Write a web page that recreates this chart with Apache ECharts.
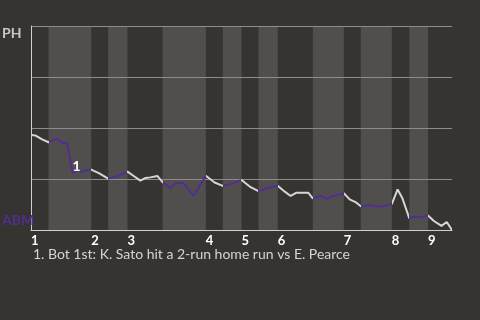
<!DOCTYPE html>
<html><head><meta charset="utf-8">
<script src="https://cdn.jsdelivr.net/npm/echarts@6/dist/echarts.min.js"></script>
<style>html,body{margin:0;padding:0;background:#363430;}#c{width:480px;height:320px;}</style>
</head><body><div id="c"></div>
<script>
// Play index (x) and PH win probability (y) per event
const plays = [0.0,0.8,1.9,3.0,4.4,5.4,6.2,7.1,7.9,8.6,9.4,10.3,11.6,13.2,15.0,16.5,17.5,18.7,19.6,20.4,21.6,22.5,23.8,24.8,26.1,27.8,29.9,31.4,32.8,34.1,36.0,37.4,38.9,40.1,41.2,42.2,43.4,44.4,45.4,47.4,48.2,49.5,50.6,51.4,52.2,53.5,54.5,55.5,56.4,57.7,59.1,60.2,61.7,62.7,63.5,64.7,65.7,66.7,67.9,68.9,70.2,71.1,72.0];
const phWinProb = [0.466,0.463,0.444,0.430,0.448,0.426,0.426,0.279,0.291,0.284,0.293,0.296,0.279,0.252,0.266,0.286,0.266,0.242,0.255,0.258,0.265,0.235,0.204,0.230,0.230,0.168,0.266,0.233,0.216,0.225,0.245,0.213,0.191,0.203,0.212,0.217,0.188,0.167,0.183,0.183,0.155,0.168,0.152,0.165,0.169,0.180,0.150,0.137,0.116,0.123,0.115,0.116,0.127,0.199,0.157,0.057,0.066,0.061,0.071,0.044,0.020,0.039,0.000];
const topHalfStarts = [0, 10.3, 16.5, 29.9, 36.0, 42.2, 53.5, 61.7, 67.9];
const bottomHalfStarts = [3.0, 13.2, 22.5, 32.8, 38.9, 48.2, 56.4, 64.7];
const inningLabels = ['1','2','3','4','5','6','7','8','9'];
const gameEnd = 72;
const awayTeam = 'PH';
const homeTeam = 'ABM';
const noteIndex = 7;
const noteText = '1';
const footnote = '1. Bot 1st: K. Sato hit a 2-run home run vs E. Pearce';

const PURPLE = '#532d8f';
const LIGHT = '#d6d6d6';
const FONT = 'Lato';

const bands = bottomHalfStarts.map((s, i) => [{xAxis: s}, {xAxis: topHalfStarts[i + 1]}]);
const pieces = [];
topHalfStarts.forEach((s, i) => {
  const b = bottomHalfStarts[i];
  if (b !== undefined) {
    pieces.push({gte: s, lt: b, color: LIGHT});
    pieces.push({gte: b, lt: topHalfStarts[i + 1], color: PURPLE});
  } else {
    pieces.push({gte: s, lte: gameEnd, color: LIGHT});
  }
});

const chart = echarts.init(document.getElementById('c'), null, {renderer: 'canvas'});
chart.setOption({
  backgroundColor: '#363430',
  animation: false,
  textStyle: {fontFamily: FONT},
  title: {
    text: footnote, left: 28, top: 242,
    textStyle: {color: '#d4d4d4', fontSize: 14, fontWeight: 'normal', fontFamily: FONT}
  },
  grid: {left: 31, right: 28, top: 26, bottom: 90, containLabel: false, outerBoundsMode: 'none'},
  xAxis: {
    type: 'value', min: 0, max: gameEnd, z: 1,
    splitLine: {show: false},
    axisTick: {show: false},
    axisLine: {lineStyle: {color: '#cfcfcf', width: 1}},
    axisLabel: {
      customValues: topHalfStarts,
      formatter: v => { const i = topHalfStarts.indexOf(v); return i >= 0 ? inningLabels[i] : ''; },
      align: 'left', margin: 4,
      color: '#ffffff', fontWeight: 'bold', fontSize: 13, fontFamily: FONT,
      showMinLabel: true, showMaxLabel: true
    }
  },
  yAxis: [
    {
      type: 'value', min: 0, max: 1, interval: 0.25, z: 1,
      axisTick: {show: false},
      axisLine: {show: true, lineStyle: {color: '#cfcfcf', width: 1}},
      splitLine: {lineStyle: {color: '#8c8c8a', width: 1}},
      axisLabel: {
        align: 'left', verticalAlign: 'top', margin: 29,
        color: '#c8c8c8', fontWeight: 'bold', fontSize: 14, fontFamily: FONT,
        formatter: v => v === 1 ? awayTeam : ''
      }
    },
    {
      type: 'value', min: 0, max: 1, interval: 0.25, position: 'left', z: 1,
      axisTick: {show: false}, axisLine: {show: false}, splitLine: {show: false},
      axisLabel: {
        align: 'left', verticalAlign: 'bottom', margin: 29, padding: [0, 0, 3, 0],
        color: PURPLE, fontWeight: 'bold', fontSize: 14, fontFamily: FONT,
        formatter: v => v === 0 ? homeTeam : ''
      }
    }
  ],
  visualMap: {
    type: 'piecewise', show: false, dimension: 0, seriesIndex: 1, pieces: pieces
  },
  series: [
    {
      type: 'line', data: [], z: 0, silent: true,
      markArea: {silent: true, z: 0, itemStyle: {color: '#504f4d'}, data: bands}
    },
    {
      type: 'line', z: 2, symbol: 'none', smooth: false,
      lineStyle: {width: 2},
      data: plays.map((x, i) => [x, phWinProb[i]]),
      markPoint: {
        symbol: 'circle', symbolSize: 0,
        data: [{coord: [plays[noteIndex], phWinProb[noteIndex]], value: noteText}],
        label: {
          show: true, position: 'inside', offset: [4, -7], formatter: noteText,
          color: '#ffffff', fontWeight: 'bold', fontSize: 14, fontFamily: FONT
        }
      }
    }
  ]
});
</script>
</body></html>
